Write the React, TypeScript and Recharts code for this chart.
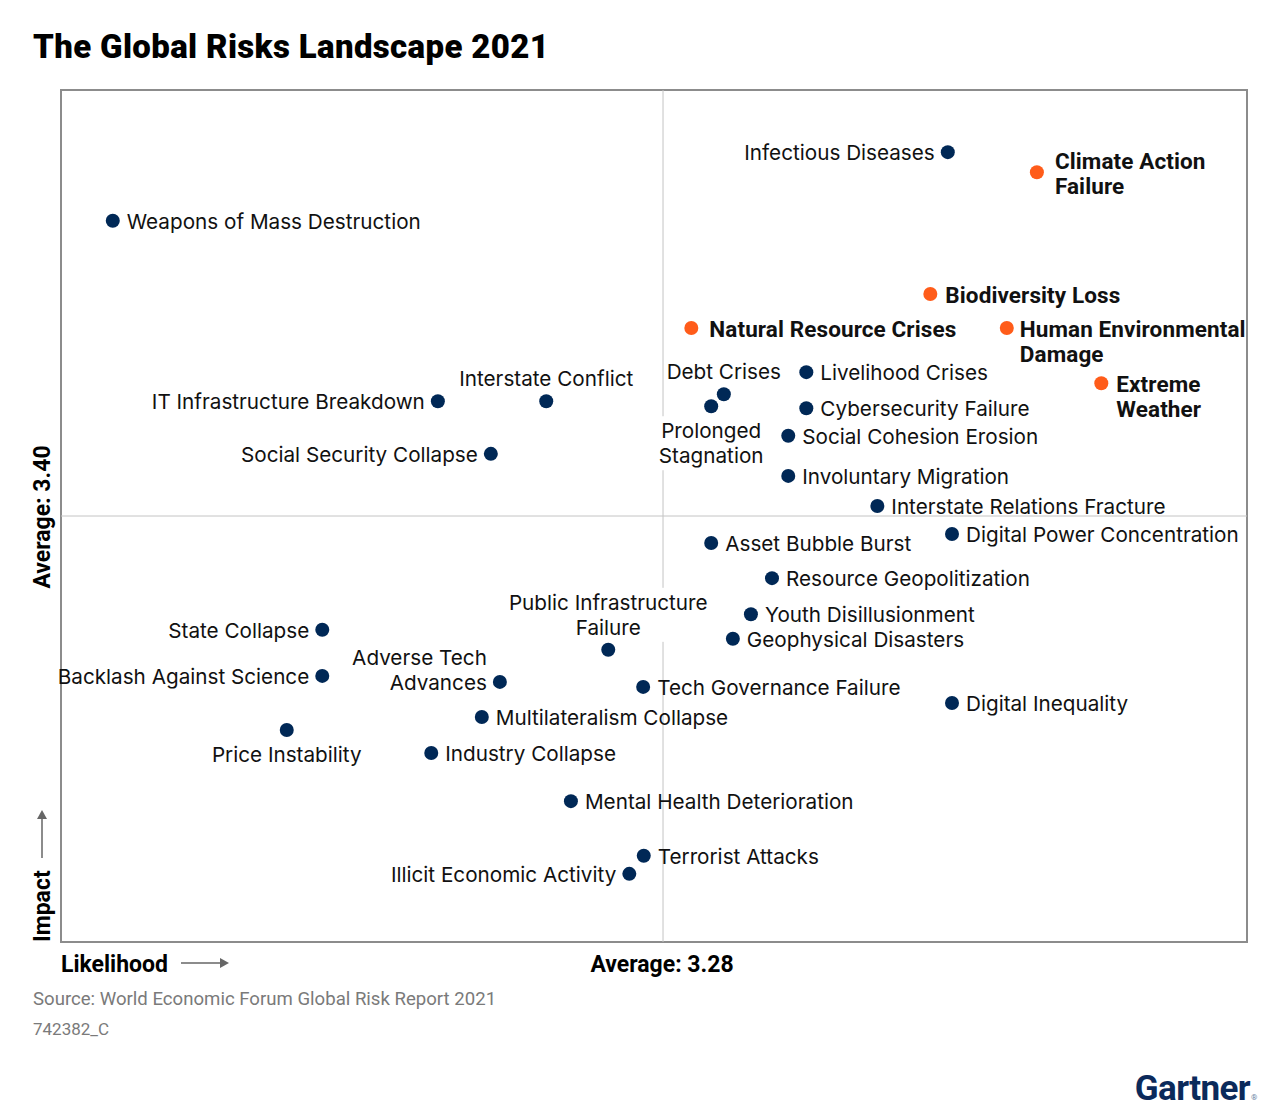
import { ScatterChart, Scatter, XAxis, YAxis, ReferenceLine, ReferenceArea } from "recharts";

// Environmental risks (highlighted in orange)
const environmentalRisks = [
  "Climate Action Failure",
  "Biodiversity Loss",
  "Natural Resource Crises",
  "Human Environmental Damage",
  "Extreme Weather",
];
const environmentalLikelihood = [3.901, 3.724, 3.327, 3.851, 4.008];
const environmentalImpact = [4.086, 3.843, 3.775, 3.775, 3.665];

// All other risks
const otherRisks = [
  "Weapons of Mass Destruction",
  "Infectious Diseases",
  "Debt Crises",
  "Prolonged Stagnation",
  "Livelihood Crises",
  "Cybersecurity Failure",
  "Social Cohesion Erosion",
  "Involuntary Migration",
  "Interstate Relations Fracture",
  "Digital Power Concentration",
  "Asset Bubble Burst",
  "Resource Geopolitization",
  "Youth Disillusionment",
  "Geophysical Disasters",
  "Tech Governance Failure",
  "Digital Inequality",
  "Public Infrastructure Failure",
  "Interstate Conflict",
  "IT Infrastructure Breakdown",
  "Social Security Collapse",
  "State Collapse",
  "Backlash Against Science",
  "Adverse Tech Advances",
  "Price Instability",
  "Multilateralism Collapse",
  "Industry Collapse",
  "Mental Health Deterioration",
  "Terrorist Attacks",
  "Illicit Economic Activity",
];
const otherLikelihood = [
  2.366, 3.753, 3.381, 3.36, 3.518, 3.518, 3.488, 3.488, 3.636, 3.76,
  3.36, 3.461, 3.426, 3.396, 3.247, 3.76, 3.189, 3.086, 2.906, 2.994,
  2.714, 2.714, 3.009, 2.655, 2.979, 2.895, 3.127, 3.248, 3.224,
];
const otherImpact = [
  3.989, 4.126, 3.643, 3.619, 3.687, 3.615, 3.56, 3.48, 3.42, 3.364,
  3.346, 3.276, 3.204, 3.155, 3.059, 3.027, 3.133, 3.629, 3.629, 3.524,
  3.173, 3.081, 3.069, 2.973, 2.999, 2.927, 2.831, 2.722, 2.686,
];

const likelihoodAverage = 3.28;
const impactAverage = 3.4;
const likelihoodDomain = [2.28, 4.25];
const impactDomain = [2.55, 4.25];

type Placement = {
  side: "left" | "right" | "top" | "bottom";
  lines?: string[];
  dx?: number;
  dy?: number;
  bg?: boolean;
};

const placements: Record<string, Placement> = {
  "Climate Action Failure": { side: "right", lines: ["Climate Action", "Failure"], dx: 18, dy: -12 },
  "Natural Resource Crises": { side: "right", dx: 18 },
  "Human Environmental Damage": { side: "right", lines: ["Human Environmental", "Damage"], dx: 13 },
  "Extreme Weather": { side: "right", lines: ["Extreme", "Weather"] },
  "Infectious Diseases": { side: "left" },
  "Debt Crises": { side: "top" },
  "Prolonged Stagnation": { side: "bottom", lines: ["Prolonged", "Stagnation"], bg: true },
  "Public Infrastructure Failure": { side: "top", lines: ["Public Infrastructure", "Failure"], bg: true },
  "Interstate Conflict": { side: "top" },
  "IT Infrastructure Breakdown": { side: "left" },
  "Social Security Collapse": { side: "left" },
  "State Collapse": { side: "left" },
  "Backlash Against Science": { side: "left" },
  "Adverse Tech Advances": { side: "left", lines: ["Adverse Tech", "Advances"], dy: -25 },
  "Price Instability": { side: "bottom" },
  "Illicit Economic Activity": { side: "left" },
};

const NAVY = "#002856";
const ORANGE = "#ff5c1a";
const LABEL_FONT = "Inter, 'Noto Sans', sans-serif";
const BOLD_FONT = "Roboto, 'Noto Sans', sans-serif";

const toRows = (names: string[], xs: number[], ys: number[]) =>
  names.map((name, i) => ({ name, likelihood: xs[i], impact: ys[i] }));

const environmentalData = toRows(environmentalRisks, environmentalLikelihood, environmentalImpact);
const otherData = toRows(otherRisks, otherLikelihood, otherImpact);

const makeShape = (color: string, bold: boolean) => (props: any) => {
  const { cx, cy, payload } = props;
  const p = placements[payload.name] ?? { side: "right" };
  const lines = p.lines ?? [payload.name];
  const lh = 25;
  let x = cx;
  let anchor: "start" | "end" | "middle" = "start";
  let first = p.dy ?? 0;
  if (p.side === "right") x = cx + (p.dx ?? (bold ? 15 : 14));
  if (p.side === "left") {
    x = cx - (p.dx ?? 13);
    anchor = "end";
  }
  if (p.side === "top") {
    anchor = "middle";
    first = p.dy ?? -(23 + lh * (lines.length - 1));
  }
  if (p.side === "bottom") {
    anchor = "middle";
    first = p.dy ?? 24;
  }
  const longest = Math.max(...lines.map((l) => l.length));
  const bw = longest * 10.5 + 8;
  return (
    <g>
      {p.bg && (
        <rect
          x={cx - bw / 2}
          y={cy + first - 14}
          width={bw}
          height={lh * lines.length + 4}
          fill="#fff"
        />
      )}
      <circle cx={cx} cy={cy} r={7} fill={color} />
      {lines.map((line, i) => (
        <text
          key={i}
          x={x}
          y={cy + first + i * lh}
          dy="0.38em"
          textAnchor={anchor}
          fontFamily={bold ? BOLD_FONT : LABEL_FONT}
          fontWeight={bold ? 700 : 400}
          fontSize={bold ? 22.5 : 20.7}
          letterSpacing={bold ? 0.1 : 0}
          fill="#111"
        >
          {line}
        </text>
      ))}
    </g>
  );
};

export default function App() {
  return (
    <div style={{ position: "relative", width: 1264, height: 1107, background: "#fff" }}>
      <ScatterChart width={1264} height={1000} margin={{ top: 82, right: 25, bottom: 66, left: 53 }}>
        <XAxis type="number" dataKey="likelihood" domain={likelihoodDomain} hide />
        <YAxis type="number" dataKey="impact" domain={impactDomain} hide />
        <ReferenceLine x={likelihoodAverage} stroke="#c4c4c4" strokeWidth={1} />
        <ReferenceLine y={impactAverage} stroke="#c4c4c4" strokeWidth={1} />
        <ReferenceArea
          x1={likelihoodDomain[0]}
          x2={likelihoodDomain[1]}
          y1={impactDomain[0]}
          y2={impactDomain[1]}
          fill="none"
          fillOpacity={0}
          stroke="#8c8c8c"
          strokeWidth={2}
        />
        <Scatter data={otherData} isAnimationActive={false} shape={makeShape(NAVY, false)} />
        <Scatter data={environmentalData} isAnimationActive={false} shape={makeShape(ORANGE, true)} />
      </ScatterChart>
      <svg
        width={1264}
        height={1107}
        style={{ position: "absolute", left: 0, top: 0, pointerEvents: "none" }}
        fontFamily={BOLD_FONT}
      >
        <text x={25} y={50} fontSize={33} fontWeight={900} fill="#000" letterSpacing={0.35}>
          The Global Risks Landscape 2021
        </text>
        <text x={53} y={964} fontSize={23} fontWeight={700} fill="#000">
          Likelihood
        </text>
        <line x1={173} y1={955} x2={218} y2={955} stroke="#666" strokeWidth={1.5} />
        <path d="M212,950 L221,955 L212,960 Z" fill="#666" />
        <text x={654} y={964} fontSize={23} fontWeight={700} fill="#000" textAnchor="middle">
          Average: 3.28
        </text>
        <text
          x={42}
          y={509}
          transform="rotate(-90 42 509)"
          fontSize={23}
          fontWeight={700}
          fill="#000"
          textAnchor="middle"
        >
          Average: 3.40
        </text>
        <text x={42} y={934} transform="rotate(-90 42 934)" fontSize={23} fontWeight={700} fill="#000">
          Impact
        </text>
        <line x1={34} y1={850} x2={34} y2={808} stroke="#666" strokeWidth={1.5} />
        <path d="M29,811 L34,802 L39,811 Z" fill="#666" />
        <text x={25} y={997} fontSize={18.6} fill="#7a7a7a">
          Source: World Economic Forum Global Risk Report 2021
        </text>
        <text x={25} y={1027} fontSize={17} fill="#7a7a7a">
          742382_C
        </text>
        <text x={1242} y={1092} fontSize={35} fontWeight={700} fill="#0b2a5b" textAnchor="end" letterSpacing={-0.6}>
          Gartner
        </text>
        <text x={1243} y={1092} fontSize={8} fill="#6b7fa3">
          ®
        </text>
      </svg>
    </div>
  );
}
